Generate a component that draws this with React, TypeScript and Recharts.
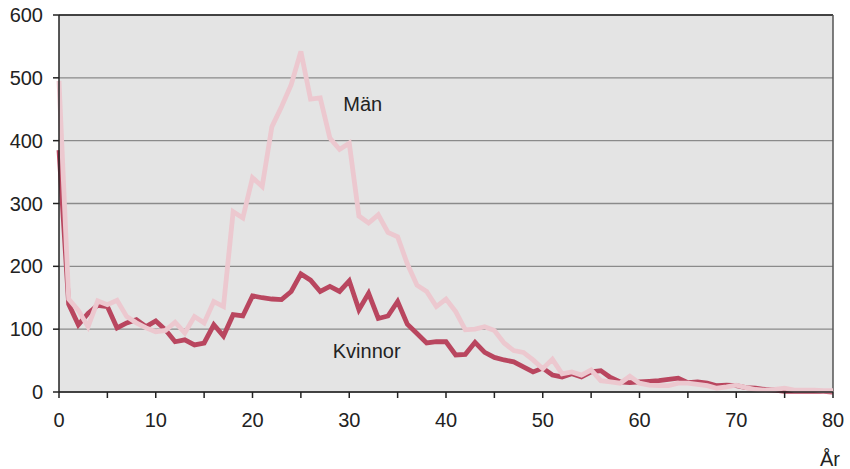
import { CartesianGrid, Line, LineChart, ReferenceDot, ReferenceLine, XAxis, YAxis } from "recharts";

// Age in years, 0..80
const ages = Array.from({ length: 81 }, (_, i) => i);

const men = [
  495, 148, 130, 104, 145, 139, 146, 120, 110, 102,
  96, 98, 111, 94, 120, 110, 144, 136, 287, 277,
  341, 327, 422, 454, 489, 542, 466, 468, 404, 386,
  396, 280, 269, 282, 254, 247, 204, 170, 160, 136,
  148, 128, 99, 100, 104, 98, 78, 66, 63, 51,
  37, 52, 29, 32, 27, 35, 18, 16, 14, 25,
  14, 11, 10, 10, 14, 14, 12, 10, 6, 8,
  11, 7, 4, 3, 4, 6, 3, 3, 3, 2,
  2,
];

const women = [
  385, 140, 107, 125, 138, 136, 102, 110, 115, 104,
  113, 99, 80, 83, 75, 78, 107, 89, 123, 121,
  153, 150, 148, 147, 160, 188, 178, 160, 168, 160,
  177, 131, 157, 117, 121, 144, 108, 93, 78, 80,
  80, 59, 60, 79, 63, 55, 51, 48, 40, 32,
  38, 27, 24, 29, 24, 32, 34, 23, 16, 15,
  16, 17, 18, 20, 22, 15, 16, 14, 10, 11,
  10, 7, 6, 4, 3, 1, 1, 1, 1, 1,
  0,
];

const xTicks = [0, 5, 10, 15, 20, 25, 30, 35, 40, 45, 50, 55, 60, 65, 70, 75, 80];
const yTicks = [0, 100, 200, 300, 400, 500, 600];

const data = ages.map((age, i) => ({ age, men: men[i], women: women[i] }));

const font = "'Liberation Sans', Arial, sans-serif";
const tickStyle = { fill: "#222", fontSize: 20, fontFamily: font };

export default function App() {
  return (
    <div style={{ position: "absolute", left: 0, top: 0, width: 850, height: 469, background: "#fff" }}>
      <LineChart
        width={850}
        height={469}
        data={data}
        margin={{ top: 15, right: 17, bottom: 47, left: 19 }}
      >
        <CartesianGrid vertical={false} fill="#e4e4e4" stroke="#8a8a8a" strokeWidth={1.3} />
        <XAxis
          dataKey="age"
          type="number"
          domain={[0, 80]}
          ticks={xTicks}
          interval={0}
          tickFormatter={(v: number) => (v % 10 === 0 ? String(v) : "")}
          tick={tickStyle}
          tickSize={6}
          tickMargin={15}
          height={30}
          stroke="#222"
          strokeWidth={1.5}
        />
        <YAxis
          type="number"
          domain={[0, 600]}
          ticks={yTicks}
          interval={0}
          tick={tickStyle}
          tickSize={6}
          tickMargin={10}
          width={40}
          stroke="#222"
          strokeWidth={1.5}
        />
        <ReferenceLine y={600} stroke="#222" strokeWidth={1.5} />
        <ReferenceLine x={80} stroke="#555" strokeWidth={1.5} />
        <Line
          dataKey="women"
          stroke="#b9465f"
          strokeWidth={4.8}
          dot={false}
          isAnimationActive={false}
          strokeLinejoin="miter"
        />
        <Line
          dataKey="men"
          stroke="#ecc8cf"
          strokeWidth={4.8}
          dot={false}
          isAnimationActive={false}
          strokeLinejoin="miter"
        />
        <ReferenceDot
          x={31.4}
          y={458}
          r={0}
          fill="none"
          stroke="none"
          label={{ value: "Män", position: "center", fill: "#222", fontSize: 20, fontFamily: font }}
        />
        <ReferenceDot
          x={31.8}
          y={65}
          r={0}
          fill="none"
          stroke="none"
          label={{ value: "Kvinnor", position: "center", fill: "#222", fontSize: 20, fontFamily: font }}
        />
      </LineChart>
      <div
        style={{
          position: "absolute",
          left: 820,
          top: 449,
          fontFamily: font,
          fontSize: 20,
          color: "#222",
          lineHeight: "20px",
        }}
      >
        År
      </div>
    </div>
  );
}
